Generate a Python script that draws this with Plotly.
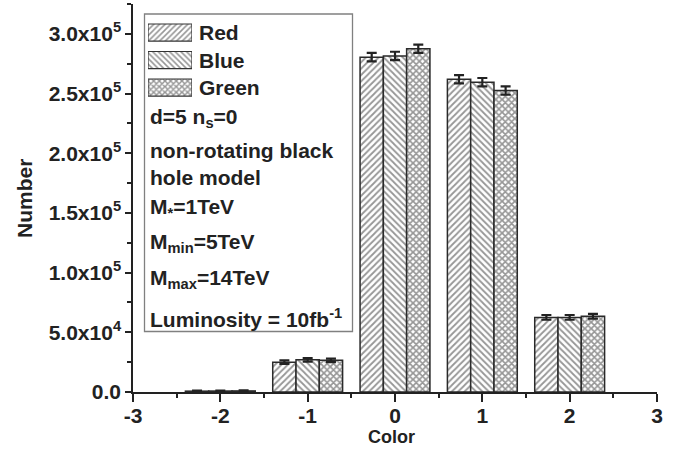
import plotly.graph_objects as go

# Colour charge bins and event counts per jet colour
colors_x = [-2, -1, 0, 1, 2]
series = ["Red", "Blue", "Green"]
red_counts = [700, 25000, 280500, 262000, 62500]
blue_counts = [800, 27000, 281500, 259500, 62500]
green_counts = [900, 26500, 287500, 252500, 63500]
red_err = [400, 1500, 3500, 3500, 2000]
blue_err = [400, 1500, 3500, 3500, 2000]
green_err = [400, 1500, 3500, 3500, 2000]

y_tickvals = [0, 50000, 100000, 150000, 200000, 250000, 300000]
y_ticktext = ["0.0", "5.0x10<sup>4</sup>", "1.0x10<sup>5</sup>", "1.5x10<sup>5</sup>",
              "2.0x10<sup>5</sup>", "2.5x10<sup>5</sup>", "3.0x10<sup>5</sup>"]
x_tickvals = [-3, -2, -1, 0, 1, 2, 3]
x_ticktext = ["-3", "-2", "-1", "0", "1", "2", "3"]

legend_lines = ["d=5 n<sub>s</sub>=0", "non-rotating black", "hole model",
                "M<sub>*</sub>=1TeV", "M<sub>min</sub>=5TeV", "M<sub>max</sub>=14TeV",
                "Luminosity = 10fb<sup>-1</sup>"]

W, H = 683, 451
ML, MR, MT, MB = 133, 26, 4, 59
PW, PH = W - ML - MR, H - MT - MB


def px(x):
    return (x - ML) / PW


def py(y):
    return (H - MB - y) / PH


INK = "#222222"
FONT = "Liberation Sans"
shapes_pat = ["/", "\\", "x"]
solid = [0.4, 0.4, 0.6]
counts = [red_counts, blue_counts, green_counts]
errs = [red_err, blue_err, green_err]

fig = go.Figure()
for name, vals, err, shp, sol in zip(series, counts, errs, shapes_pat, solid):
    fig.add_trace(go.Bar(
        x=colors_x, y=vals, name=name, showlegend=False,
        marker=dict(color="white", line=dict(color="#2a2a2a", width=1.5),
                    pattern=dict(shape=shp, fgcolor="#2e2e2e", bgcolor="white",
                                 size=4.5, solidity=sol)),
        error_y=dict(type="data", array=err, visible=True, color=INK,
                     thickness=2.2, width=5),
    ))

# Legend swatches drawn on a small hidden axis pair inside the key box
for i, (name, shp, sol) in enumerate(zip(series, shapes_pat, solid)):
    fig.add_trace(go.Bar(
        x=[1], y=[i], base=0, orientation="h", width=0.62, showlegend=False,
        xaxis="x2", yaxis="y2", hoverinfo="skip",
        marker=dict(color="white", line=dict(color="#333333", width=1.2),
                    pattern=dict(shape=shp, fgcolor="#2e2e2e", bgcolor="white",
                                 size=4, solidity=sol)),
    ))

xtick_font = dict(family=FONT, size=21, color=INK, weight="bold")
ytick_font = dict(family=FONT, size=21, color=INK, weight="bold")

fig.update_layout(
    width=W, height=H,
    margin=dict(l=ML, r=MR, t=MT, b=MB),
    paper_bgcolor="white", plot_bgcolor="white",
    barmode="group", bargap=0.2, bargroupgap=0,
    showlegend=False,
    font=dict(family=FONT, color=INK),
    xaxis=dict(range=[-3, 3], tickmode="array", tickvals=x_tickvals, ticktext=x_ticktext,
               showline=True, linecolor=INK, linewidth=1.5, mirror=False,
               ticks="outside", ticklen=8, tickwidth=1.5, tickcolor=INK,
               ticklabelstandoff=-4,
               minor=dict(tickmode="linear", tick0=-3, dtick=0.5, ticks="outside",
                          ticklen=4, tickwidth=1.5, tickcolor=INK),
               showgrid=False, zeroline=False, tickfont=xtick_font),
    yaxis=dict(range=[0, 325000], tickmode="array", tickvals=y_tickvals, ticktext=y_ticktext,
               showline=True, linecolor=INK, linewidth=1.5,
               ticks="outside", ticklen=6, tickwidth=1.5, tickcolor=INK,
               minor=dict(tickmode="linear", tick0=0, dtick=25000, ticks="outside",
                          ticklen=4, tickwidth=1.5, tickcolor=INK),
               showgrid=False, zeroline=False, tickfont=ytick_font),
    xaxis2=dict(domain=[px(148), px(192)], range=[0, 1], anchor="y2", visible=False,
                fixedrange=True),
    yaxis2=dict(domain=[py(32.5 + 27.5 * 2 + 13.75), py(32.5 - 13.75)], range=[2.5, -0.5],
                anchor="x2", visible=False, fixedrange=True),
)

# Key box
fig.add_shape(type="rect", xref="paper", yref="paper",
              x0=px(144.5), x1=px(352.5), y0=py(331.5), y1=py(14),
              line=dict(color="#808080", width=1.3), fillcolor="rgba(0,0,0,0)", layer="below")

key_font = dict(family=FONT, size=21, color=INK, weight="bold")
for name, yc in zip(series, [32.5, 60, 87.5]):
    fig.add_annotation(text=name, x=px(197), y=py(yc), xref="paper", yref="paper",
                       xanchor="left", yanchor="middle", showarrow=False, font=key_font)

line_y = [118, 150, 177, 208, 243, 279, 318]
for txt, yc in zip(legend_lines, line_y):
    fig.add_annotation(text=txt, x=px(148), y=py(yc), xref="paper", yref="paper",
                       xanchor="left", yanchor="middle", showarrow=False, font=key_font)

# Axis titles
fig.add_annotation(text="Number", x=px(24), y=py(199), xref="paper", yref="paper",
                   textangle=-90, showarrow=False, xanchor="center", yanchor="middle",
                   font=dict(family=FONT, size=21, color=INK, weight="bold"))
fig.add_annotation(text="Color", x=px(391), y=py(437), xref="paper", yref="paper",
                   showarrow=False, xanchor="center", yanchor="middle",
                   font=dict(family=FONT, size=18, color=INK, weight="bold"))

fig.write_html("out.html")
